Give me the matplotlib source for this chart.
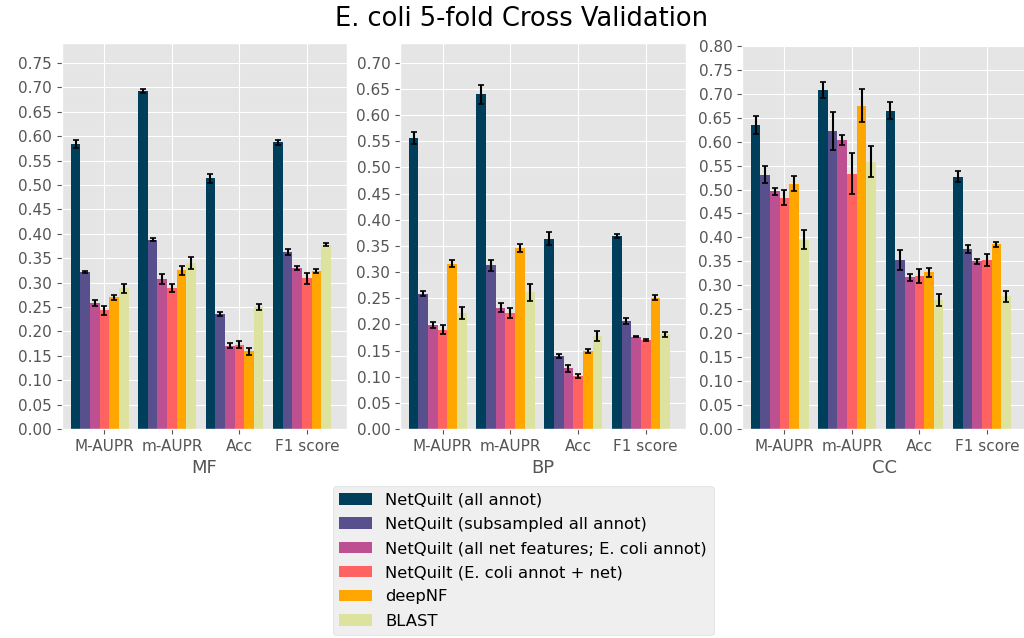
import numpy as np
import matplotlib
matplotlib.use('Agg')
import matplotlib.pyplot as plt

plt.style.use('ggplot')

metrics = ['M-AUPR', 'm-AUPR', 'Acc', 'F1 score']
methods = ['NetQuilt (all annot)',
           'NetQuilt (subsampled all annot)',
           'NetQuilt (all net features; E. coli annot)',
           'NetQuilt (E. coli annot + net)',
           'deepNF',
           'BLAST']
colors = ['#003f5c', '#58508d', '#bc5090', '#ff6361', '#ffa600', '#dde29e']

# rows = methods, columns = metrics
mf_mean = [[0.584, 0.692, 0.514, 0.588],
           [0.322, 0.388, 0.236, 0.362],
           [0.258, 0.307, 0.171, 0.330],
           [0.243, 0.289, 0.173, 0.309],
           [0.270, 0.325, 0.159, 0.324],
           [0.288, 0.340, 0.250, 0.378]]
mf_err = [[0.009, 0.004, 0.009, 0.005],
          [0.002, 0.003, 0.004, 0.006],
          [0.006, 0.010, 0.006, 0.005],
          [0.009, 0.008, 0.008, 0.011],
          [0.005, 0.009, 0.007, 0.004],
          [0.010, 0.013, 0.007, 0.004]]

bp_mean = [[0.556, 0.640, 0.364, 0.369],
           [0.259, 0.313, 0.139, 0.206],
           [0.199, 0.232, 0.116, 0.176],
           [0.190, 0.222, 0.102, 0.171],
           [0.316, 0.346, 0.149, 0.251],
           [0.222, 0.261, 0.178, 0.181]]
bp_err = [[0.012, 0.018, 0.012, 0.003],
          [0.004, 0.010, 0.004, 0.006],
          [0.005, 0.008, 0.007, 0.001],
          [0.008, 0.010, 0.004, 0.002],
          [0.007, 0.008, 0.004, 0.005],
          [0.011, 0.016, 0.009, 0.005]]

cc_mean = [[0.635, 0.708, 0.665, 0.527],
           [0.531, 0.622, 0.353, 0.376],
           [0.496, 0.604, 0.317, 0.350],
           [0.483, 0.533, 0.320, 0.353],
           [0.512, 0.675, 0.327, 0.386],
           [0.395, 0.558, 0.269, 0.277]]
cc_err = [[0.018, 0.017, 0.018, 0.012],
          [0.018, 0.040, 0.020, 0.009],
          [0.008, 0.010, 0.007, 0.005],
          [0.016, 0.043, 0.015, 0.012],
          [0.016, 0.035, 0.010, 0.005],
          [0.020, 0.032, 0.012, 0.011]]

panels = [
    ('MF', mf_mean, mf_err, 0.791, 0.75, [0.0605, 0.3276, 0.278, 0.605]),
    ('BP', bp_mean, bp_err, 0.738, 0.70, [0.3906, 0.3276, 0.279, 0.605]),
    ('CC', cc_mean, cc_err, 0.802, 0.80, [0.7246, 0.3276, 0.278, 0.602]),
]

fig = plt.figure(figsize=(10.24, 6.38), dpi=100)
fig.patch.set_facecolor('white')

width = 1 / 7
x = np.arange(len(metrics))
handles = []
for name, mean, err, ytop, ytick_max, rect in panels:
    ax = fig.add_axes(rect)
    handles = []
    for i in range(len(methods)):
        b = ax.bar(x + (i - 3) * width, mean[i], width, yerr=err[i],
                   color=colors[i], label=methods[i],
                   error_kw=dict(ecolor='black', capsize=2.5, elinewidth=1.5,
                                 capthick=1.2))
        handles.append(b)
    ax.set_xticks(x)
    ax.set_xticklabels(metrics)
    ax.set_xlim(-0.63, 3.59)
    ax.set_ylim(0, ytop)
    ticks = np.arange(0, ytick_max + 0.001, 0.05)
    ax.set_yticks(ticks)
    ax.set_yticklabels(['%.2f' % v for v in ticks])
    ax.tick_params(axis='both', labelsize=11, colors='#555555')
    ax.set_xlabel(name, fontsize=13, color='#555555')

fig.suptitle('E. coli 5-fold Cross Validation', fontsize=18.5, x=0.509, y=0.99)
fig.legend(handles, methods, loc='upper center', bbox_to_anchor=(0.511, 0.238),
           fontsize=11.8, frameon=True, facecolor='#ebebeb', edgecolor='#d8d8d8',
           borderaxespad=0, labelspacing=0.56, borderpad=0.4)

fig.savefig('out.png', dpi=100, facecolor='white')
